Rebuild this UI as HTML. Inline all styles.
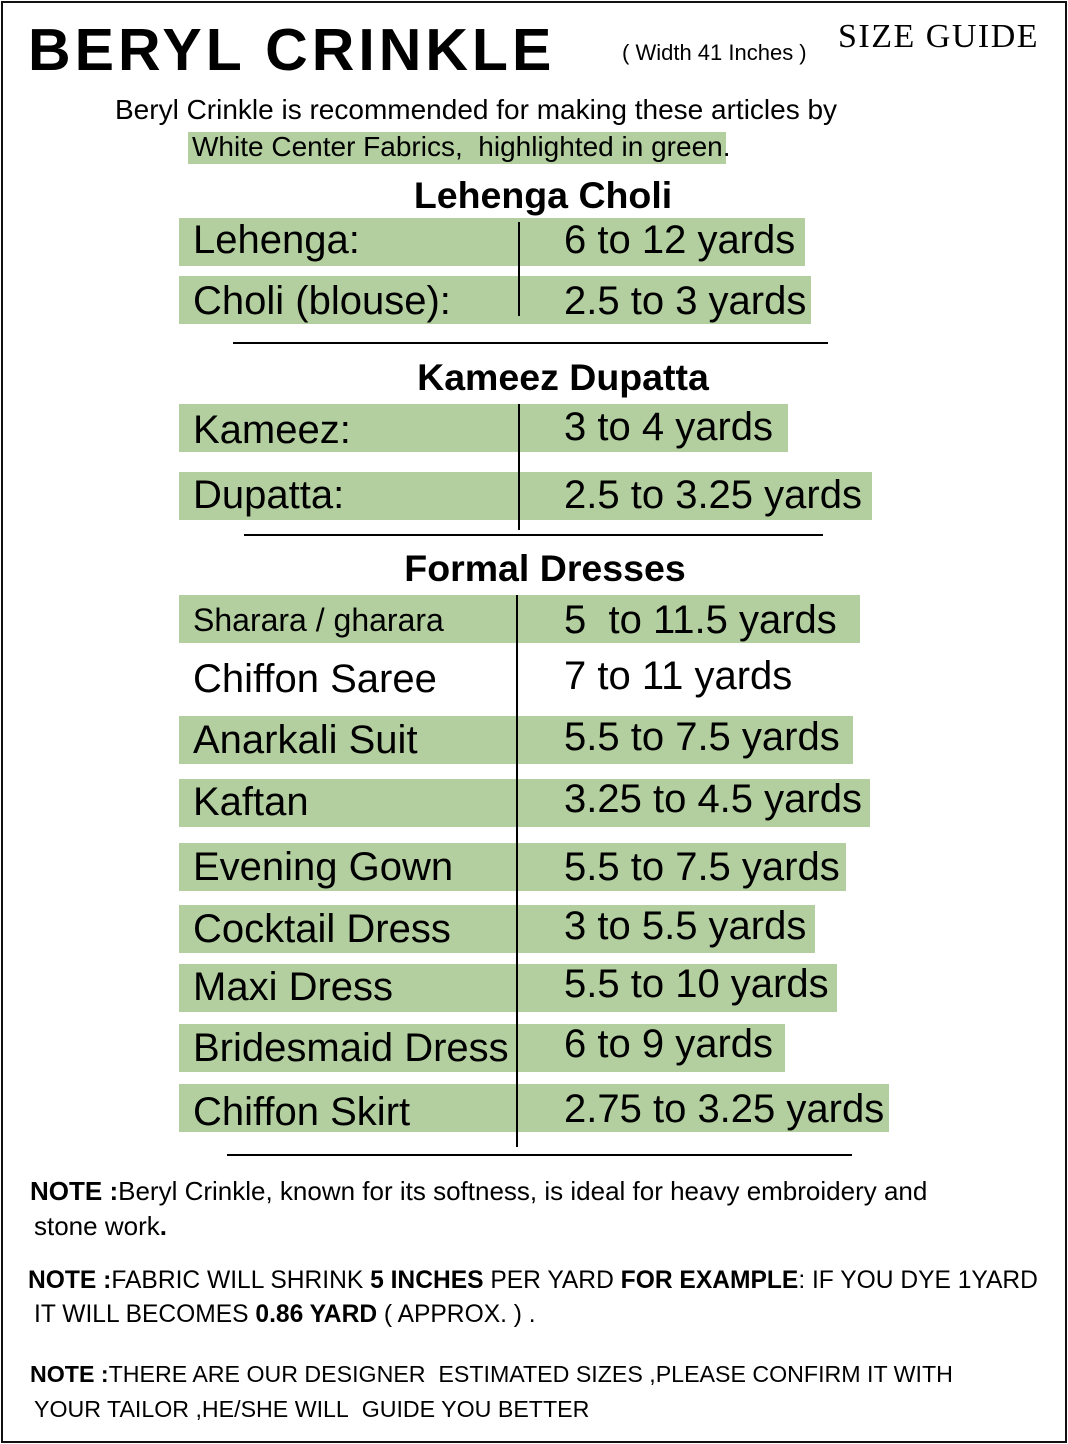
<!DOCTYPE html>
<html><head><meta charset="utf-8"><style>
body{margin:0;background:#fff;}
#p{position:relative;width:1068px;height:1444px;overflow:hidden;font-family:"Liberation Sans",sans-serif;color:#000;}
#b{position:absolute;left:1px;top:1px;width:1062px;height:1438px;border:2px solid #111;}
.t{position:absolute;white-space:nowrap;}
.g{position:absolute;left:179px;height:48px;background:#b3cfa0;}
.l{position:absolute;left:193px;font-size:40px;white-space:nowrap;line-height:48px;}
.r{position:absolute;left:564px;font-size:40px;white-space:nowrap;line-height:48px;}
.v{position:absolute;width:2px;background:#000;}
.h{position:absolute;height:2px;background:#000;}
.hd{position:absolute;font-weight:bold;font-size:37.5px;white-space:nowrap;transform:translateX(-50%);}
.n{position:absolute;left:30px;font-size:24px;white-space:nowrap;}
</style></head><body><div id="p"><div id="b"></div>
<div class="t" style="left:28px;top:16px;font-size:59px;font-weight:900;letter-spacing:4px">BERYL CRINKLE</div>
<div class="t" style="left:622px;top:40px;font-size:22px">( Width 41 Inches )</div>
<div class="t" style="left:838px;top:18px;font-size:34px;font-family:'Liberation Serif',serif;letter-spacing:1.5px">SIZE GUIDE</div>
<div class="t" style="left:115px;top:94px;font-size:28px">Beryl Crinkle is recommended for making these articles by</div>
<div class="t" style="left:188px;top:132px;width:538px;height:32px;background:#b3cfa0"></div>
<div class="t" style="left:192px;top:131px;font-size:28px">White Center Fabrics,&nbsp; highlighted in green.</div>
<div class="hd" style="left:543px;top:174px">Lehenga Choli</div>
<div class="g" style="top:218px;width:626px"></div><div class="l" style="top:216px">Lehenga:</div><div class="r" style="top:216px">6 to 12 yards</div>
<div class="g" style="top:276px;width:632px"></div><div class="l" style="top:277px">Choli (blouse):</div><div class="r" style="top:277px">2.5 to 3 yards</div>
<div class="v" style="left:518px;top:222px;height:94px"></div>
<div class="h" style="left:233px;top:342px;width:595px"></div>
<div class="hd" style="left:563px;top:356px">Kameez Dupatta</div>
<div class="g" style="top:404px;width:609px"></div><div class="l" style="top:406px">Kameez:</div><div class="r" style="top:403px">3 to 4 yards</div>
<div class="g" style="top:472px;width:693px"></div><div class="l" style="top:471px">Dupatta:</div><div class="r" style="top:471px">2.5 to 3.25 yards</div>
<div class="v" style="left:518px;top:404px;height:126px"></div>
<div class="h" style="left:244px;top:534px;width:579px"></div>
<div class="hd" style="left:545px;top:547px">Formal Dresses</div>
<div class="g" style="top:595px;width:681px"></div><div class="l" style="top:596px;font-size:32px">Sharara / gharara</div><div class="r" style="top:596px">5&nbsp; to 11.5 yards</div>
<div class="l" style="top:655px">Chiffon Saree</div><div class="r" style="top:652px">7 to 11 yards</div>
<div class="g" style="top:716px;width:674px"></div><div class="l" style="top:716px">Anarkali Suit</div><div class="r" style="top:713px">5.5 to 7.5 yards</div>
<div class="g" style="top:779px;width:691px"></div><div class="l" style="top:778px">Kaftan</div><div class="r" style="top:775px">3.25 to 4.5 yards</div>
<div class="g" style="top:843px;width:667px"></div><div class="l" style="top:843px">Evening Gown</div><div class="r" style="top:843px">5.5 to 7.5 yards</div>
<div class="g" style="top:905px;width:636px"></div><div class="l" style="top:905px">Cocktail Dress</div><div class="r" style="top:902px">3 to 5.5 yards</div>
<div class="g" style="top:964px;width:658px"></div><div class="l" style="top:963px">Maxi Dress</div><div class="r" style="top:960px">5.5 to 10 yards</div>
<div class="g" style="top:1024px;width:606px"></div><div class="l" style="top:1024px">Bridesmaid Dress</div><div class="r" style="top:1020px">6 to 9 yards</div>
<div class="g" style="top:1084px;width:710px"></div><div class="l" style="top:1088px">Chiffon Skirt</div><div class="r" style="top:1085px">2.75 to 3.25 yards</div>
<div class="v" style="left:516px;top:595px;height:552px"></div>
<div class="h" style="left:227px;top:1154px;width:625px"></div>
<div class="n" style="top:1176px;font-size:26px"><b>NOTE :</b>Beryl Crinkle, known for its softness, is ideal for heavy embroidery and</div>
<div class="n" style="top:1211px;left:34px;font-size:26px">stone work<b>.</b></div>
<div class="n" style="top:1267px;left:28px;font-size:24.6px"><b>NOTE :</b>FABRIC WILL SHRINK <b>5 INCHES</b> PER YARD <b>FOR EXAMPLE</b>: IF YOU DYE 1YARD</div>
<div class="n" style="top:1301px;left:34px;font-size:24.6px">IT WILL BECOMES <b>0.86 YARD</b> ( APPROX. ) .</div>
<div class="n" style="top:1361px;font-size:23.2px"><b>NOTE :</b>THERE ARE OUR DESIGNER&nbsp; ESTIMATED SIZES ,PLEASE CONFIRM IT WITH</div>
<div class="n" style="top:1396px;left:34px;font-size:23.2px">YOUR TAILOR ,HE/SHE WILL&nbsp; GUIDE YOU BETTER</div>
</div></body></html>
